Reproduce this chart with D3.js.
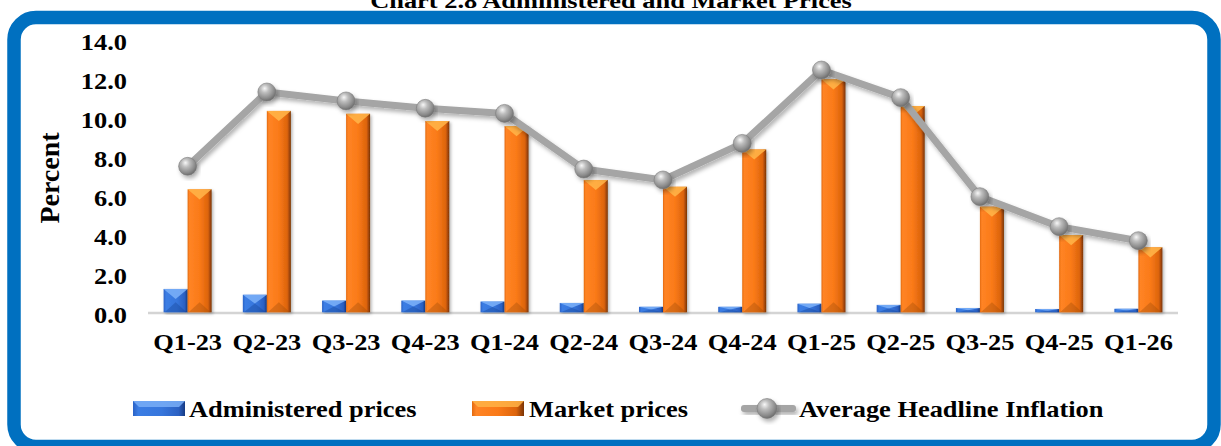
<!DOCTYPE html>
<html>
<head>
<meta charset="utf-8">
<script src="https://cdn.jsdelivr.net/npm/d3@7"></script>
<style>
  html, body { margin: 0; padding: 0; background: #ffffff; }
  svg { display: block; }
  text { font-family: "Liberation Serif", "Times New Roman", serif; font-weight: bold; fill: #000; }
</style>
</head>
<body>
<svg id="chart" width="1221" height="446"></svg>
<script>
// Quarterly inflation contributions (percent)
const quarters = ["Q1-23", "Q2-23", "Q3-23", "Q4-23", "Q1-24", "Q2-24", "Q3-24",
                  "Q4-24", "Q1-25", "Q2-25", "Q3-25", "Q4-25", "Q1-26"];
const administered = [1.20, 0.90, 0.60, 0.60, 0.55, 0.48, 0.28, 0.28, 0.44, 0.38, 0.22, 0.17, 0.18];
const market       = [6.32, 10.35, 10.20, 9.83, 9.57, 6.80, 6.45, 8.37, 11.97, 10.60, 5.43, 3.97, 3.34];
const headline     = [7.50, 11.32, 10.86, 10.48, 10.22, 7.36, 6.80, 8.68, 12.45, 11.03, 5.94, 4.40, 3.68];
const yTicks = [0, 2, 4, 6, 8, 10, 12, 14];
const seriesNames = ["Administered prices", "Market prices", "Average Headline Inflation"];
const chartTitle = "Chart 2.8 Administered and Market Prices";

const svg = d3.select("#chart");
const defs = svg.append("defs");
const SX = 1.1;     // horizontal stretch of the lettering
const FS = "24px";  // label font size

// ---------- gradients & filters ----------
function hGrad(id, stops) {
  const g = defs.append("linearGradient").attr("id", id)
    .attr("x1", "0%").attr("x2", "100%").attr("y1", "0%").attr("y2", "0%");
  stops.forEach(([o, c]) => g.append("stop").attr("offset", o).attr("stop-color", c));
}
hGrad("gOrange", [["0%", "#E26A10"], ["8%", "#FF8425"], ["50%", "#FA7A18"], ["85%", "#DC640C"], ["100%", "#7A3305"]]);
hGrad("gBlue", [["0%", "#2A62C6"], ["10%", "#3B7DE4"], ["55%", "#3776DC"], ["88%", "#2B60C2"], ["100%", "#163A82"]]);

const rg = defs.append("radialGradient").attr("id", "gSphere")
  .attr("cx", "40%").attr("cy", "35%").attr("r", "65%").attr("fx", "38%").attr("fy", "30%");
[["0%", "#F7F7F7"], ["35%", "#BDBDBD"], ["80%", "#8A8A8A"], ["100%", "#6E6E6E"]]
  .forEach(([o, c]) => rg.append("stop").attr("offset", o).attr("stop-color", c));

const fShadow = defs.append("filter").attr("id", "shadow")
  .attr("x", "-10%").attr("y", "-10%").attr("width", "130%").attr("height", "140%");
fShadow.append("feDropShadow").attr("dx", 2).attr("dy", 3).attr("stdDeviation", 2)
  .attr("flood-color", "#000").attr("flood-opacity", 0.3);

const fBarShadow = defs.append("filter").attr("id", "barShadow")
  .attr("x", "-20%").attr("y", "-5%").attr("width", "150%").attr("height", "115%");
fBarShadow.append("feDropShadow").attr("dx", 1.5).attr("dy", 1.5).attr("stdDeviation", 1.5)
  .attr("flood-color", "#000").attr("flood-opacity", 0.3);

// ---------- title & frame ----------
svg.append("text")
  .attr("transform", `translate(611,8) scale(1.2,1)`)
  .attr("text-anchor", "middle")
  .style("font-size", "22px")
  .text(chartTitle);

svg.append("rect")
  .attr("x", 14).attr("y", 17.5).attr("width", 1200).attr("height", 429)
  .attr("rx", 22).attr("ry", 22)
  .attr("fill", "#fff").attr("stroke", "#0070C0").attr("stroke-width", 13.5);

// ---------- scales ----------
const plot = { left: 148, right: 1178, top: 40, bottom: 312.3 };
const x0 = d3.scaleBand().domain(quarters).range([plot.left, plot.right]).padding(0);
const x1 = d3.scaleBand().domain(["adm", "mkt"]).range([0, x0.bandwidth()])
  .paddingInner(0).paddingOuter(0.65);
const y = d3.scaleLinear().domain([0, 14]).range([plot.bottom, plot.bottom - 14 * 19.46]);

// ---------- y axis (labels only) ----------
const yAxis = svg.append("g")
  .attr("transform", `translate(${plot.left},0)`)
  .call(d3.axisLeft(y).tickValues(yTicks).tickSize(0).tickFormat(d3.format(".1f")));
yAxis.select(".domain").remove();
yAxis.selectAll("text")
  .attr("x", null).attr("dy", null)
  .attr("transform", `translate(-21,10) scale(${SX},1)`)
  .attr("text-anchor", "end")
  .style("font-family", "'Liberation Serif', 'Times New Roman', serif")
  .style("font-weight", "bold")
  .style("font-size", FS)
  .attr("fill", "#000");

svg.append("text")
  .attr("transform", "translate(59,178) rotate(-90)")
  .attr("text-anchor", "middle")
  .style("font-size", "28px")
  .text("Percent");

// ---------- baseline ----------
svg.append("line")
  .attr("x1", plot.left).attr("x2", plot.right)
  .attr("y1", y(0) + 0.8).attr("y2", y(0) + 0.8)
  .attr("stroke", "#D4D4D4").attr("stroke-width", 2.5);

// ---------- bars ----------
function bevelBar(g, x, w, v, fill, light, dark) {
  const top = y(v), h = y(0) - top;
  const grp = g.append("g");
  grp.append("rect").attr("x", x).attr("y", top).attr("width", w).attr("height", h)
    .attr("fill", `url(#${fill})`).attr("filter", "url(#barShadow)");
  const th = Math.min(w * 0.42, h / 2);
  grp.append("path")
    .attr("d", `M${x},${top}L${x + w},${top}L${x + w / 2},${top + th}Z`)
    .attr("fill", light).attr("opacity", 0.9);
  grp.append("path")
    .attr("d", `M${x + 1},${y(0)}L${x + w - 1},${y(0)}L${x + w / 2},${y(0) - th}Z`)
    .attr("fill", dark).attr("opacity", 0.35);
}

const barLayer = svg.append("g");
quarters.forEach((q, i) => {
  bevelBar(barLayer, x0(q) + x1("adm"), x1.bandwidth(), administered[i], "gBlue", "#79AEF7", "#123E8E");
  bevelBar(barLayer, x0(q) + x1("mkt"), x1.bandwidth(), market[i], "gOrange", "#FFB347", "#9A4A0A");
});

// ---------- x labels ----------
svg.append("g").selectAll("text").data(quarters).join("text")
  .attr("transform", d => `translate(${x0(d) + x0.bandwidth() / 2},350) scale(${SX},1)`)
  .attr("text-anchor", "middle")
  .style("font-size", FS)
  .text(d => d);

// ---------- headline line ----------
const cx = i => x0(quarters[i]) + x0.bandwidth() / 2;
const line = d3.line().x((d, i) => cx(i)).y(d => y(d));
svg.append("path")
  .datum(headline)
  .attr("d", line)
  .attr("fill", "none")
  .attr("stroke", "#A5A5A5").attr("stroke-width", 7)
  .attr("stroke-linejoin", "round").attr("stroke-linecap", "round")
  .attr("filter", "url(#shadow)");

svg.append("g").selectAll("circle").data(headline).join("circle")
  .attr("cx", (d, i) => cx(i)).attr("cy", d => y(d)).attr("r", 9)
  .attr("fill", "url(#gSphere)").attr("stroke", "#7C7C7C").attr("stroke-width", 0.6)
  .attr("filter", "url(#shadow)");

// ---------- legend ----------
const lg = svg.append("g");
function legendRect(x, fill, light) {
  lg.append("rect").attr("x", x).attr("y", 401).attr("width", 52).attr("height", 15)
    .attr("fill", `url(#${fill})`);
  lg.append("path")
    .attr("d", `M${x},401L${x + 52},401L${x + 46},407L${x + 6},407Z`)
    .attr("fill", light).attr("opacity", 0.85);
}
function legendText(x, t) {
  lg.append("text").attr("transform", `translate(${x},417) scale(${SX},1)`)
    .style("font-size", FS).text(t);
}
legendRect(133, "gBlue", "#79AEF7");
legendText(189, seriesNames[0]);
legendRect(472, "gOrange", "#FFB347");
legendText(529, seriesNames[1]);
lg.append("rect").attr("x", 741).attr("y", 405).attr("width", 55).attr("height", 7)
  .attr("rx", 3).attr("fill", "#A5A5A5").attr("filter", "url(#shadow)");
lg.append("circle").attr("cx", 767).attr("cy", 408.5).attr("r", 10)
  .attr("fill", "url(#gSphere)").attr("stroke", "#7C7C7C").attr("stroke-width", 0.6)
  .attr("filter", "url(#shadow)");
legendText(799, seriesNames[2]);
</script>
</body>
</html>
